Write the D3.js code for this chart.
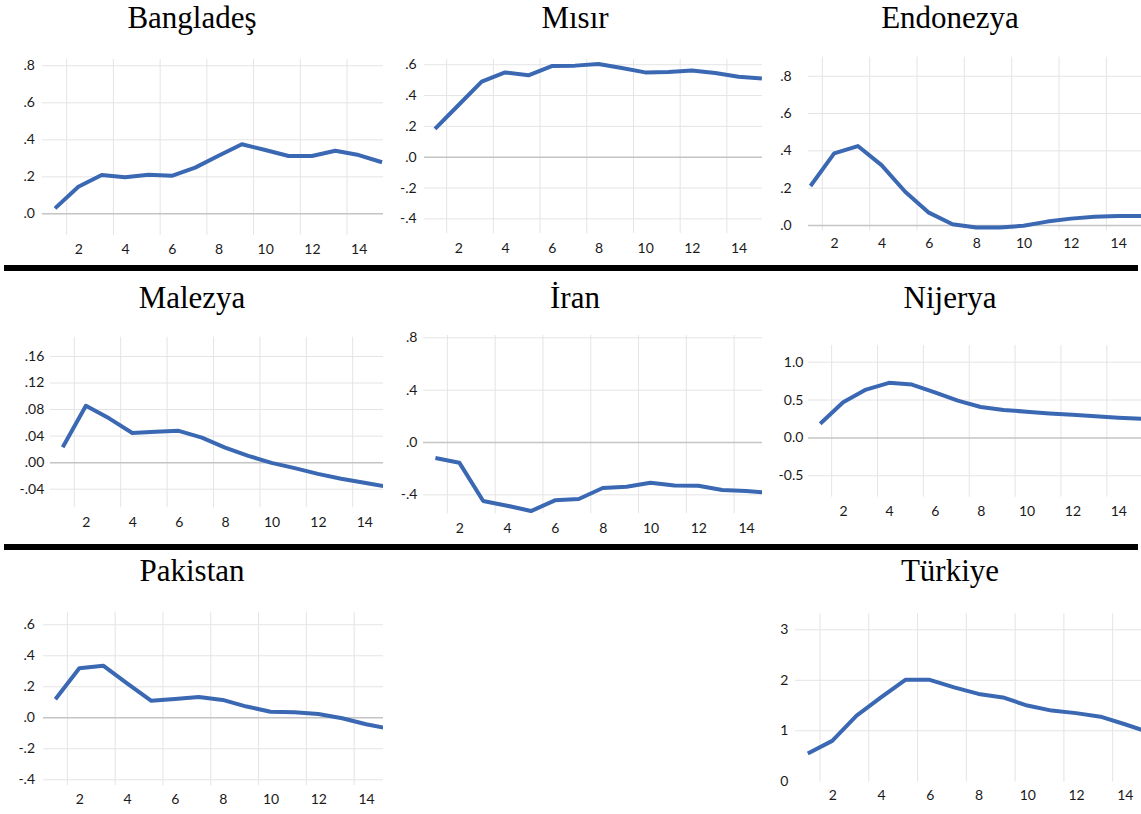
<!DOCTYPE html>
<html><head><meta charset="utf-8">
<script src="https://cdn.jsdelivr.net/npm/d3@7"></script>
<style>body{margin:0;background:#fff}svg{display:block}</style>
</head><body>
<svg id="c" width="1141" height="814"></svg>
<script>
// ---- data ----
const periods = [1,2,3,4,5,6,7,8,9,10,11,12,13,14,15];
const xTickValues = [2,4,6,8,10,12,14];
const titles = ["Bangladeş","Mısır","Endonezya","Malezya","İran","Nijerya","Pakistan","Türkiye"];

const bangladesh = [0.027,0.144,0.207,0.195,0.209,0.203,0.247,0.311,0.373,0.342,0.310,0.310,0.338,0.315,0.276];
const misir      = [0.180,0.334,0.487,0.547,0.528,0.588,0.591,0.601,0.575,0.547,0.549,0.560,0.543,0.519,0.508];
const endonezya  = [0.209,0.384,0.423,0.321,0.178,0.066,0.004,-0.014,-0.014,-0.004,0.018,0.034,0.044,0.048,0.048];
const malezya    = [0.0226,0.085,0.066,0.044,0.0457,0.0472,0.037,0.022,0.0095,-0.001,-0.009,-0.0177,-0.025,-0.031,-0.037];
const iran       = [-0.122,-0.158,-0.451,-0.487,-0.528,-0.446,-0.436,-0.352,-0.342,-0.311,-0.332,-0.334,-0.367,-0.375,-0.39];
const nijerya    = [0.181,0.463,0.631,0.72,0.697,0.595,0.485,0.402,0.362,0.34,0.317,0.30,0.278,0.26,0.247];
const pakistan   = [0.116,0.316,0.333,0.219,0.107,0.118,0.131,0.112,0.069,0.036,0.032,0.021,-0.006,-0.045,-0.075];
const turkiye    = [0.54,0.79,1.29,1.65,2.0,2.0,1.85,1.72,1.65,1.49,1.39,1.34,1.27,1.12,0.96];

const yTicksBangladesh = [0,0.2,0.4,0.6,0.8];      const yLabelsBangladesh = [".0",".2",".4",".6",".8"];
const yTicksMisir = [-0.4,-0.2,0,0.2,0.4,0.6];      const yLabelsMisir = ["-.4","-.2",".0",".2",".4",".6"];
const yTicksEndonezya = [0,0.2,0.4,0.6,0.8];       const yLabelsEndonezya = [".0",".2",".4",".6",".8"];
const yTicksMalezya = [-0.04,0,0.04,0.08,0.12,0.16]; const yLabelsMalezya = ["-.04",".00",".04",".08",".12",".16"];
const yTicksIran = [-0.4,0,0.4,0.8];               const yLabelsIran = ["-.4",".0",".4",".8"];
const yTicksNijerya = [-0.5,0,0.5,1.0];            const yLabelsNijerya = ["-0.5","0.0","0.5","1.0"];
const yTicksPakistan = [-0.4,-0.2,0,0.2,0.4,0.6];   const yLabelsPakistan = ["-.4","-.2",".0",".2",".4",".6"];
const yTicksTurkiye = [0,1,2,3];                   const yLabelsTurkiye = ["0","1","2","3"];

const seriesList = [bangladesh,misir,endonezya,malezya,iran,nijerya,pakistan,turkiye];
const yTicksList = [yTicksBangladesh,yTicksMisir,yTicksEndonezya,yTicksMalezya,yTicksIran,yTicksNijerya,yTicksPakistan,yTicksTurkiye];
const yLabelsList = [yLabelsBangladesh,yLabelsMisir,yLabelsEndonezya,yLabelsMalezya,yLabelsIran,yLabelsNijerya,yLabelsPakistan,yLabelsTurkiye];
const yDomains = [[-0.117,0.834],[-0.495,0.634],[-0.027,0.902],[-0.068,0.189],[-0.545,0.818],[-0.783,1.22],[-0.437,0.681],[-0.018,3.317]];

// ---- layout ----
const layout = [
  {gx0:42,  pt1:55.0,  step:23.36, clipR:383,  top:59,    bottom:235,   labR:35,    xLabY:249,   tx:192, ty:28,  zero:true},
  {gx0:424, pt1:435.0, step:23.35, clipR:762,  top:59,    bottom:233,   labR:416.7, xLabY:247.7, tx:575, ty:28,  zero:true},
  {gx0:808, pt1:810.5, step:23.67, clipR:1141, top:56.7,  bottom:230,   labR:791.7, xLabY:242.7, tx:950, ty:28,  zero:true},
  {gx0:50,  pt1:62.7,  step:23.2,  clipR:383,  top:336.7, bottom:507.3, labR:44.3,  xLabY:521.7, tx:192, ty:308, zero:true},
  {gx0:423, pt1:435.4, step:23.9,  clipR:762,  top:335,   bottom:513.3, labR:417.3, xLabY:528.3, tx:575, ty:308, zero:true},
  {gx0:808, pt1:820.2, step:22.93, clipR:1141, top:345,   bottom:496.7, labR:803.3, xLabY:510.7, tx:950, ty:308, zero:true},
  {gx0:43,  pt1:55.4,  step:23.9,  clipR:383,  top:611.7, bottom:785,   labR:35,    xLabY:799.3, tx:192, ty:581, zero:true},
  {gx0:795, pt1:807.8, step:24.39, clipR:1141, top:613.3, bottom:781.7, labR:788.3, xLabY:795,   tx:950, ty:581, zero:false}
];

const svg = d3.select("#c");
svg.append("rect").attr("width",1141).attr("height",814).attr("fill","#fff");

const GRID = "#e4e4e4", ZERO = "#c4c4c4", LINE = "#3b68b3";
const tickFont = "Lato, 'Open Sans', sans-serif";
const tickSize = 14;

seriesList.forEach((vals, i) => {
  const L = layout[i];
  const x = d3.scaleLinear().domain([1,15]).range([L.pt1, L.pt1 + 14*L.step]);
  const y = d3.scaleLinear().domain(yDomains[i]).range([L.bottom, L.top]);
  const g = svg.append("g");

  const cid = "clip" + i;
  svg.append("clipPath").attr("id", cid).append("rect")
    .attr("x", L.gx0).attr("y", L.top - 10).attr("width", L.clipR - L.gx0).attr("height", L.bottom - L.top + 20);

  // vertical gridlines (between categories, before each labelled period)
  g.append("g").attr("clip-path", `url(#${cid})`).selectAll("line").data(xTickValues).join("line")
    .attr("x1", d => x(d - 0.5)).attr("x2", d => x(d - 0.5))
    .attr("y1", L.top).attr("y2", L.bottom)
    .attr("stroke", GRID).attr("stroke-width", 1);

  // y axis with gridlines
  const labels = yLabelsList[i];
  const ticks = yTicksList[i];
  const yAxis = d3.axisLeft(y).tickValues(ticks)
    .tickFormat((d, k) => labels[k])
    .tickSize(-(L.clipR - L.gx0)).tickPadding(L.gx0 - L.labR);
  const ya = g.append("g").attr("transform", `translate(${L.gx0},0)`).call(yAxis);
  ya.select(".domain").remove();
  ya.selectAll(".tick line").attr("stroke", d => (d === 0 && L.zero) ? ZERO : (d === 0 ? "none" : GRID))
    .attr("stroke-width", d => d === 0 ? 1.5 : 1);
  ya.selectAll(".tick text").attr("font-family", tickFont).attr("font-size", tickSize).attr("fill", "#1a1a1a");

  // x axis labels
  const xAxis = d3.axisBottom(x).tickValues(xTickValues).tickFormat(d3.format("d")).tickSize(0);
  const xa = g.append("g").attr("transform", `translate(0,${L.bottom})`).call(xAxis);
  xa.select(".domain").remove();
  xa.selectAll(".tick text").attr("y", L.xLabY - L.bottom).attr("dy", "0.35em")
    .attr("font-family", tickFont).attr("font-size", tickSize).attr("fill", "#1a1a1a");

  // line
  const line = d3.line().x((d, k) => x(periods[k])).y(d => y(d));
  g.append("path").datum(vals).attr("clip-path", `url(#${cid})`)
    .attr("d", line).attr("fill", "none").attr("stroke", LINE)
    .attr("stroke-width", 4).attr("stroke-linejoin", "round");

  // title
  svg.append("text").attr("x", L.tx).attr("y", L.ty).attr("text-anchor", "middle")
    .attr("font-family", "'Liberation Serif', 'Times New Roman', serif").attr("font-size", 31)
    .attr("fill", "#000").text(titles[i]);
});

// separators
[265, 544].forEach(yy => svg.append("rect").attr("x", 4).attr("y", yy).attr("width", 1134).attr("height", 6).attr("fill", "#000"));
</script>
</body></html>
